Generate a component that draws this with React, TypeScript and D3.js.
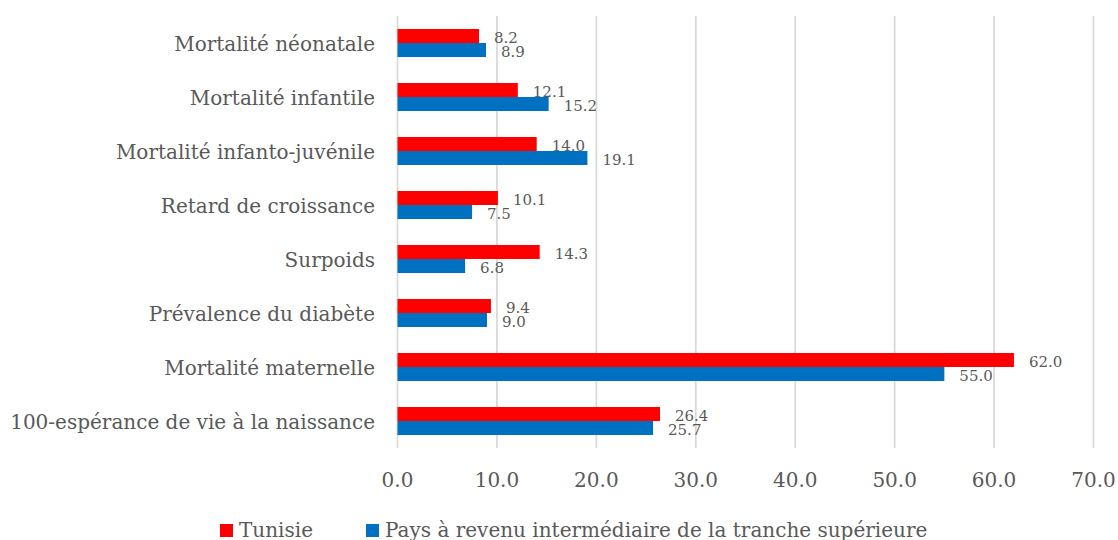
import React from "react";
import * as d3 from "d3";

const categories = [
  "Mortalité néonatale",
  "Mortalité infantile",
  "Mortalité infanto-juvénile",
  "Retard de croissance",
  "Surpoids",
  "Prévalence du diabète",
  "Mortalité maternelle",
  "100-espérance de vie à la naissance",
];
const tunisie = [8.2, 12.1, 14.0, 10.1, 14.3, 9.4, 62.0, 26.4];
const paysRevenu = [8.9, 15.2, 19.1, 7.5, 6.8, 9.0, 55.0, 25.7];
const xTicks = [0, 10, 20, 30, 40, 50, 60, 70];
const seriesNames = ["Tunisie", "Pays à revenu intermédiaire de la tranche supérieure"];
const seriesColors = ["#FF0000", "#0070C0"];

const W = 1118;
const H = 540;
const FONT = "'DejaVu Serif', serif";
const TEXT = "#595959";

export default function App() {
  const x = d3.scaleLinear().domain([0, 70]).range([397.5, 1093.5]);
  const y = d3.scaleBand<string>().domain(categories).range([16, 448]).paddingInner(0).paddingOuter(0);
  const barH = 14;
  const series = [tunisie, paysRevenu];

  return (
    <svg width={W} height={H} style={{ position: "absolute", left: 0, top: 0 }} fontFamily={FONT}>
      <rect width={W} height={H} fill="#ffffff" />
      {xTicks.map((t) => (
        <line key={"g" + t} x1={x(t)} x2={x(t)} y1={16} y2={448} stroke="#d9d9d9" strokeWidth={1.75} />
      ))}
      {categories.map((c, i) => {
        const cy = (y(c) as number) + y.bandwidth() / 2;
        return (
          <g key={c}>
            {series.map((s, k) => (
              <rect
                key={k}
                x={x(0)}
                y={cy - barH + k * barH}
                width={x(s[i]) - x(0)}
                height={barH}
                fill={seriesColors[k]}
              />
            ))}
            <text x={375} y={cy + 8} textAnchor="end" fontSize={20} fill={TEXT}>
              {c}
            </text>
            <text x={x(tunisie[i]) + 15} y={cy} fontSize={15} fill={TEXT}>
              {tunisie[i].toFixed(1)}
            </text>
            <text x={x(paysRevenu[i]) + 15} y={cy + 13.5} fontSize={15} fill={TEXT}>
              {paysRevenu[i].toFixed(1)}
            </text>
          </g>
        );
      })}
      {xTicks.map((t) => (
        <text key={"t" + t} x={x(t)} y={487} textAnchor="middle" fontSize={20} fill={TEXT}>
          {t.toFixed(1)}
        </text>
      ))}
      <g>
        <rect x={220} y={524} width={13} height={13} fill={seriesColors[0]} />
        <text x={239} y={537} fontSize={20} fill={TEXT}>
          {seriesNames[0]}
        </text>
        <rect x={366} y={524} width={13} height={13} fill={seriesColors[1]} />
        <text x={385} y={537} fontSize={20} fill={TEXT}>
          {seriesNames[1]}
        </text>
      </g>
    </svg>
  );
}
